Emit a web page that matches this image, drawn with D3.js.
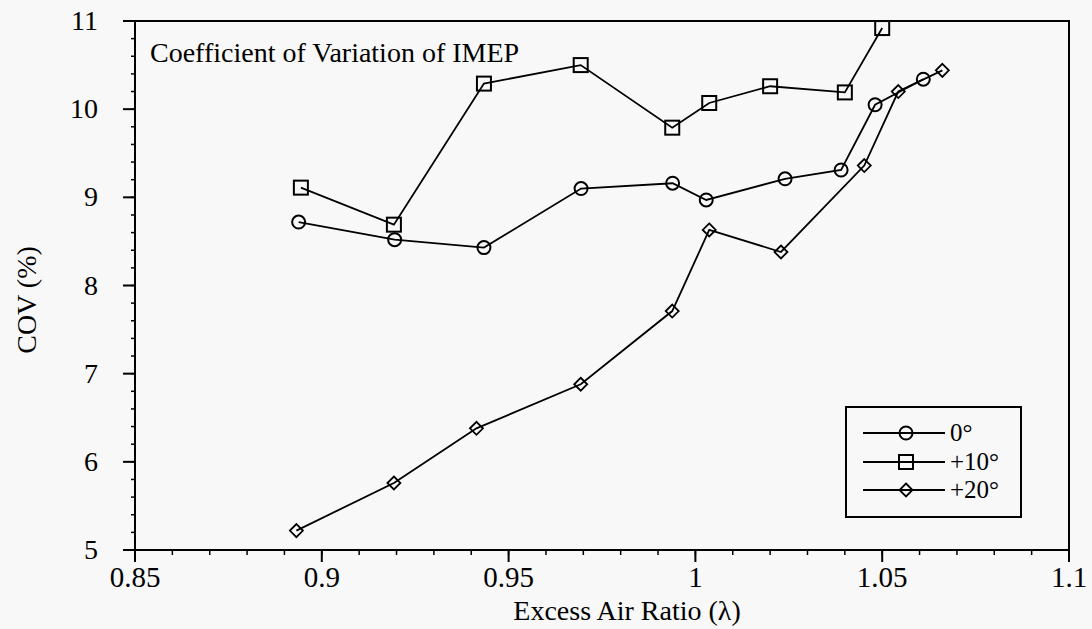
<!DOCTYPE html>
<html><head><meta charset="utf-8">
<script src="https://cdn.jsdelivr.net/npm/d3@7"></script>
<style>
html,body{margin:0;padding:0;background:#f8f8f8;}
svg{display:block;}
</style></head>
<body>
<svg id="chart" width="1092" height="629"></svg>
<script>
// Data
const x0 = [0.8938,0.9195,0.9434,0.9694,0.9939,1.0029,1.0240,1.0390,1.0481,1.0610];
const y0 = [8.72,8.52,8.43,9.10,9.16,8.97,9.21,9.31,10.05,10.34];
const x10 = [0.8944,0.9193,0.9434,0.9693,0.9938,1.0037,1.0200,1.0400,1.0500];
const y10 = [9.11,8.69,10.29,10.50,9.79,10.07,10.26,10.19,10.92];
const x20 = [0.8932,0.9193,0.9414,0.9693,0.9938,1.0037,1.0229,1.0452,1.0543,1.0661];
const y20 = [5.22,5.76,6.38,6.88,7.71,8.63,8.38,9.36,10.20,10.44];
const seriesNames = ["0°","+10°","+20°"];
const xTicks = [0.85,0.9,0.95,1,1.05,1.1];
const xTickLabels = ["0.85","0.9","0.95","1","1.05","1.1"];
const yTicks = [5,6,7,8,9,10,11];
const chartTitle = "Coefficient of Variation of IMEP";
const xTitle = "Excess Air Ratio (λ)";
const yTitle = "COV (%)";

const FONT = "'Liberation Serif', 'Times New Roman', 'DejaVu Serif', serif";
const svg = d3.select("#chart").attr("font-family", FONT);
const L=135, R=1069, T=21, B=550;
const x = d3.scaleLinear().domain([0.85,1.1]).range([L,R]);
const y = d3.scaleLinear().domain([5,11]).range([B,T]);

// frame
svg.append("rect").attr("x",L).attr("y",T).attr("width",R-L).attr("height",B-T)
  .attr("fill","none").attr("stroke","#000").attr("stroke-width",2);

// x axis ticks
const xMinor = d3.range(0.85,1.1001,0.01);
const gx = svg.append("g");
gx.selectAll("line.minor").data(xMinor).join("line")
  .attr("x1",d=>x(d)).attr("x2",d=>x(d)).attr("y1",B).attr("y2",B+5)
  .attr("stroke","#000").attr("stroke-width",1.5);
gx.selectAll("line.major").data(xTicks).join("line")
  .attr("x1",d=>x(d)).attr("x2",d=>x(d)).attr("y1",B).attr("y2",B+12)
  .attr("stroke","#000").attr("stroke-width",2);
gx.selectAll("text").data(xTicks).join("text")
  .attr("x",d=>x(d)).attr("y",587).attr("text-anchor","middle")
  .attr("font-family",FONT).attr("font-size",29).text((d,i)=>xTickLabels[i]);

// y axis ticks
const yMinor = d3.range(5,11.001,0.2);
const gy = svg.append("g");
gy.selectAll("line.minor").data(yMinor).join("line")
  .attr("x1",L-4).attr("x2",L).attr("y1",d=>y(d)).attr("y2",d=>y(d))
  .attr("stroke","#000").attr("stroke-width",1.5);
gy.selectAll("line.major").data(yTicks).join("line")
  .attr("x1",L-12).attr("x2",L).attr("y1",d=>y(d)).attr("y2",d=>y(d))
  .attr("stroke","#000").attr("stroke-width",2);
gy.selectAll("text").data(yTicks).join("text")
  .attr("x",98).attr("y",d=>y(d)+9).attr("text-anchor","end")
  .attr("font-family",FONT).attr("font-size",28).text(d=>d);

// titles
svg.append("text").attr("x",150).attr("y",62).attr("font-family",FONT).attr("font-size",28).text(chartTitle);
svg.append("text").attr("x",627).attr("y",620).attr("text-anchor","middle").attr("font-family",FONT).attr("font-size",28).text(xTitle);
svg.append("text").attr("transform","translate(36,300) rotate(-90)").attr("text-anchor","middle")
  .attr("font-family",FONT).attr("font-size",28).text(yTitle);

// series
const series = [
  {xs:x0, ys:y0, shape:"circle"},
  {xs:x10, ys:y10, shape:"square"},
  {xs:x20, ys:y20, shape:"diamond"}
];
function marker(g, shape, cx, cy){
  if(shape==="circle"){
    g.append("circle").attr("cx",cx).attr("cy",cy).attr("r",6.5)
      .attr("fill","none").attr("stroke","#000").attr("stroke-width",2);
  } else if(shape==="square"){
    g.append("rect").attr("x",cx-7).attr("y",cy-7).attr("width",14).attr("height",14)
      .attr("fill","none").attr("stroke","#000").attr("stroke-width",2);
  } else {
    const s=6.5;
    g.append("path").attr("d",`M${cx},${cy-s}L${cx+s},${cy}L${cx},${cy+s}L${cx-s},${cy}Z`)
      .attr("fill","none").attr("stroke","#000").attr("stroke-width",1.8);
  }
}
const line = d3.line().x(d=>x(d[0])).y(d=>y(d[1]));
series.forEach(s=>{
  const pts = s.xs.map((v,i)=>[v,s.ys[i]]);
  const g = svg.append("g");
  g.append("path").attr("d",line(pts)).attr("fill","none").attr("stroke","#000").attr("stroke-width",1.8);
  pts.forEach(p=>marker(g,s.shape,x(p[0]),y(p[1])));
});

// legend
const lg = svg.append("g");
lg.append("rect").attr("x",846).attr("y",407).attr("width",175).attr("height",110)
  .attr("fill","none").attr("stroke","#000").attr("stroke-width",2);
const rows=[433,462,490];
series.forEach((s,i)=>{
  lg.append("line").attr("x1",863).attr("x2",945).attr("y1",rows[i]).attr("y2",rows[i])
    .attr("stroke","#000").attr("stroke-width",1.8);
  marker(lg,s.shape,906,rows[i]);
  lg.append("text").attr("x",950).attr("y",rows[i]+8).attr("font-family",FONT).attr("font-size",25).text(seriesNames[i]);
});
</script>
</body></html>
